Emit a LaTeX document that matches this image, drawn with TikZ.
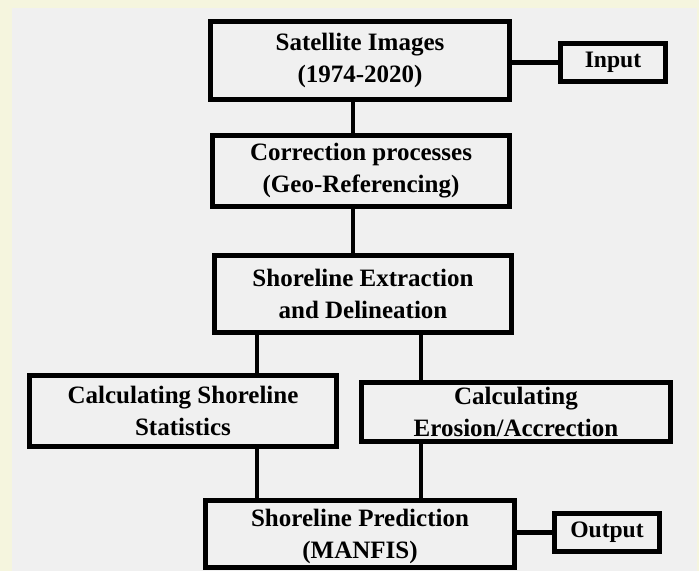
\documentclass[tikz,border=0pt]{standalone}
\usepackage{fontspec}
\setmainfont{Liberation Serif}
\begin{document}
\begin{tikzpicture}[x=1pt,y=-1pt,
  box/.style={draw=black, line width=4.6pt, rectangle, inner sep=0pt, align=center,
    font=\bfseries\fontsize{25}{32}\selectfont, text=black},
  smallbox/.style={box, font=\bfseries\fontsize{23.6}{28}\selectfont},
  link/.style={draw=black, line width=4.2pt}]
\definecolor{outerbg}{RGB}{245,245,222}
\definecolor{innerbg}{RGB}{240,240,240}
\useasboundingbox (0,0) rectangle (699,571);
\fill[outerbg] (0,0) rectangle (699,571);
\fill[innerbg] (12,7.5) rectangle (697,571);

\node[box, minimum width=299.5pt, minimum height=78.5pt] (n1) at (360,60.5) {Satellite Images\\(1974-2020)};
\node[box, minimum width=297.5pt, minimum height=71.5pt] (n2) at (361,171) {Correction processes\\(Geo-Referencing)};
\node[box, minimum width=297.5pt, minimum height=77.5pt] (n3) at (363,294) {Shoreline Extraction\\and Delineation};
\node[box, minimum width=307.5pt, minimum height=71.5pt] (n4) at (183,411) {Calculating Shoreline\\Statistics};
\node[box, minimum width=309.5pt, minimum height=59.5pt] (n5) at (516,412) {Calculating\\Erosion/Accrection};
\node[box, minimum width=309.5pt, minimum height=67.5pt] (n6) at (360,534) {\rule{0pt}{23pt}Shoreline Prediction\\(MANFIS)};
\node[smallbox, minimum width=105.5pt, minimum height=38.5pt] (in) at (613,62.5) {Input};
\node[smallbox, minimum width=105.5pt, minimum height=38.5pt] (out) at (607,532.5) {Output};

\coordinate (cx) at (353,0);
\coordinate (lx) at (257,0);
\coordinate (rx) at (421,0);

\draw[link] (n1.south -| cx) -- (n2.north -| cx);
\draw[link] (n2.south -| cx) -- (n3.north -| cx);
\draw[link] (n3.south -| lx) -- (n4.north -| lx);
\draw[link] (n3.south -| rx) -- (n5.north -| rx);
\draw[link] (n4.south -| lx) -- (n6.north -| lx);
\draw[link] (n5.south -| rx) -- (n6.north -| rx);
\draw[link] (in.west -| n1.east) -- (in.west);
\draw[link] (out.west -| n6.east) -- (out.west);
\end{tikzpicture}
\end{document}
